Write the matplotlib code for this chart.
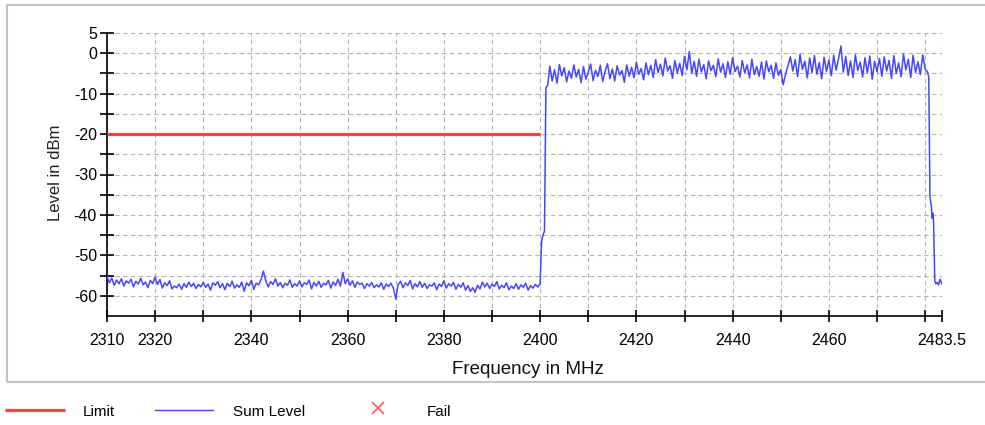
import numpy as np
import matplotlib
matplotlib.use("Agg")
import matplotlib.pyplot as plt
from matplotlib.lines import Line2D
from matplotlib.patches import Rectangle

plt.rcParams['font.family'] = ['Liberation Sans', 'DejaVu Sans']

# limit line (dBm) over the lower band
limit_mhz = [2310, 2400]
limit_dbm = [-20, -20]

# noise floor below the band, 0.5 MHz steps from 2310 to 2400
floor_dbm = [
    -55.2, -56.8, -55.6, -57.4, -56.1, -57.0, -55.8, -57.6, -56.3, -56.9,
    -55.9, -57.8, -56.4, -57.1, -55.7, -57.3, -56.6, -58.0, -56.2, -57.0,
    -55.4, -57.2, -56.0, -58.1, -56.8, -57.5, -56.3, -58.3, -57.6, -58.0,
    -57.1, -58.4, -57.0, -57.9, -56.6, -57.7, -56.9, -58.2, -57.2, -57.8,
    -56.7, -57.9, -57.1, -58.6, -56.8, -57.4, -56.5, -58.0, -57.0, -58.5,
    -56.9, -57.7, -56.4, -58.1, -57.3, -57.9, -56.6, -58.9, -56.8, -57.5,
    -56.2, -58.4, -56.9, -57.3, -56.0, -53.9, -56.3, -57.8, -56.5, -57.2,
    -55.8, -57.6, -56.7, -58.0, -56.9, -57.4, -56.1, -57.9, -57.0, -57.6,
    -56.3, -57.8, -56.8, -57.2, -56.1, -58.3, -56.7, -57.6, -56.4, -57.9,
    -56.9, -57.3, -56.2, -58.1, -56.6, -57.4, -55.9, -57.6, -54.2, -57.0,
    -55.8, -57.4, -56.3, -57.9, -56.6, -57.2, -56.9, -58.2, -57.0, -57.6,
    -56.7, -58.0, -57.3, -57.8, -56.8, -58.4, -57.1, -57.7, -56.9, -58.1,
    -60.8, -57.2, -56.4, -58.0, -56.8, -57.5, -56.2, -58.3, -57.0, -57.8,
    -56.5, -57.9, -56.9, -58.2, -57.3, -57.6, -56.8, -58.5, -57.1, -57.7,
    -56.3, -58.1, -57.0, -57.6, -56.7, -58.4, -57.2, -57.9, -56.8, -58.6,
    -57.5, -58.9, -58.0, -59.1, -57.4, -58.3, -56.6, -57.8, -56.9, -58.2,
    -57.1, -57.7, -56.5, -58.3, -57.4, -58.0, -56.8, -58.5, -57.6, -58.2,
    -57.0, -58.4, -57.3, -57.9, -56.9, -58.6, -57.5, -58.1, -57.2, -57.8,
    -57.0,
]

# rising band edge
rise_mhz = [2400.3, 2400.6, 2400.9, 2401.2, 2401.6]
rise_dbm = [-46.5, -45.0, -44.0, -8.5, -7.8]

# in-band level, 0.5 MHz steps from 2402 to 2480.5
band_dbm = [
    -3.2, -6.9, -4.1, -7.4, -2.8, -5.6, -3.6, -7.1, -4.4, -6.2,
    -2.9, -5.9, -4.0, -7.3, -3.3, -6.4, -4.7, -2.7, -6.8, -4.2,
    -5.8, -3.0, -7.0, -4.5, -2.6, -6.3, -3.9, -6.9, -3.1, -5.4,
    -4.3, -7.2, -2.9, -5.7, -3.5, -6.1, -2.2, -5.2, -3.8, -6.6,
    -2.4, -5.3, -3.0, -6.0, -1.6, -4.8, -2.7, -5.6, -1.2, -4.4,
    -3.1, -6.2, -1.8, -4.9, -2.5, -5.5, -0.8, -4.1, 0.4, -5.0,
    -2.0, -5.7, -1.5, -4.6, -2.8, -6.3, -1.9, -4.3, -3.0, -5.8,
    -1.4, -4.7, -2.6, -6.0, -2.1, -5.2, -1.1, -4.5, -3.2, -5.9,
    -1.8, -4.9, -2.9, -6.1, -1.5, -5.3, -3.3, -5.7, -2.2, -6.4,
    -1.9, -4.6, -3.0, -6.2, -2.4, -5.5, -4.0, -7.8, -5.2, -3.1,
    -0.9, -4.4, -1.6, -5.8, -0.3, -4.0, -2.0, -6.1, -1.2, -4.8,
    -0.6, -5.2, -2.3, -6.3, -1.0, -4.5, -1.7, -5.6, -0.5, -4.2,
    -1.4, 1.8, -4.7, -0.8, -5.5, -1.9, -6.0, -0.4, -4.3, -2.2,
    -5.9, -1.1, -4.9, -0.7, -6.4, -2.0, -4.6, -1.3, -5.7, -0.9,
    -4.4, -1.8, -6.2, -0.6, -5.0, -2.4, -5.8, -0.2, -4.1, -1.5,
    -6.0, -0.5, -4.8, -2.1, -5.3, -0.4, -3.9, -4.6,
]

# falling band edge and floor up to 2483.5
fall_mhz = [2480.75, 2481.0, 2481.3, 2481.45, 2481.6, 2481.75, 2482.0,
            2482.2, 2482.5, 2482.8, 2483.1, 2483.5]
fall_dbm = [-6.0, -35.5, -38.0, -40.8, -39.6, -41.5, -56.4,
            -57.0, -56.7, -57.3, -55.9, -57.1]

xticks = [2310, 2320, 2330, 2340, 2350, 2360, 2370, 2380, 2390, 2400,
          2410, 2420, 2430, 2440, 2450, 2460, 2470, 2480, 2483.5]
xlabels = ['2310', '2320', '', '2340', '', '2360', '', '2380', '', '2400',
           '', '2420', '', '2440', '', '2460', '', '', '2483.5']
yticks = [5, 0, -5, -10, -15, -20, -25, -30, -35, -40, -45, -50, -55, -60]
ylabels = ['5', '0', '', '-10', '', '-20', '', '-30', '', '-40', '', '-50',
           '', '-60']

red = '#ff4040'
blue = '#4646ff'

freq = np.concatenate([np.arange(2310, 2400.01, 0.5), rise_mhz,
                       np.arange(2402, 2480.51, 0.5), fall_mhz])
level = np.concatenate([floor_dbm, rise_dbm, band_dbm, fall_dbm])

fig = plt.figure(figsize=(9.85, 4.25), dpi=100)
ax = fig.add_axes([107 / 985, 109 / 425, 835 / 985, 283 / 425])

ax.plot(limit_mhz, limit_dbm, color=red, lw=2.3, solid_capstyle='butt', zorder=3)
ax.plot(freq, level, color=blue, lw=1.1, zorder=4)

ax.set_xlim(2310, 2483.5)
ax.set_ylim(-65, 5)
ax.set_xticks(xticks)
ax.set_xticklabels(xlabels)
ax.set_yticks(yticks)
ax.set_yticklabels(ylabels)

ax.grid(True, color='#b4b4b4', lw=0.8, linestyle=(0, (4, 3)))
ax.set_axisbelow(True)
for side in ['top', 'right']:
    ax.spines[side].set_visible(False)
for side in ['left', 'bottom']:
    ax.spines[side].set_linewidth(1.2)
ax.tick_params(axis='both', direction='inout', width=1.2, labelsize=11.5,
               colors='black')
ax.tick_params(axis='y', length=10, pad=2.2)
ax.tick_params(axis='x', length=9, pad=7.5)

fig.text(55 / 985, 1 - 173 / 425, 'Level in dBm', rotation=90,
         ha='center', va='center', fontsize=12, color='#222222')
fig.text(528 / 985, 1 - 369 / 425, 'Frequency in MHz',
         ha='center', va='center', fontsize=13.5, color='#111111')

# chart frame
fig.add_artist(Rectangle((7 / 985, 43 / 425), 990 / 985, 377 / 425,
                         transform=fig.transFigure, fill=False,
                         edgecolor='#c4c4c4', lw=1.5))

# legend row under the frame
ly = 1 - 410 / 425
fig.add_artist(Line2D([5 / 985, 65 / 985], [ly, ly], transform=fig.transFigure,
                      color=red, lw=2.3, solid_capstyle='butt'))
fig.text(83 / 985, 1 - 412 / 425, 'Limit', va='center', fontsize=11)
fig.add_artist(Line2D([155 / 985, 213 / 985], [ly, ly], transform=fig.transFigure,
                      color=blue, lw=1.0))
fig.text(233 / 985, 1 - 412 / 425, 'Sum Level', va='center', fontsize=11)
fig.add_artist(Line2D([378 / 985], [1 - 408 / 425], transform=fig.transFigure,
                      marker='x', ms=8, mew=1.2, color='#ff5a5a', lw=0))
fig.text(427 / 985, 1 - 412 / 425, 'Fail', va='center', fontsize=11)

fig.savefig('out.png', dpi=100)
